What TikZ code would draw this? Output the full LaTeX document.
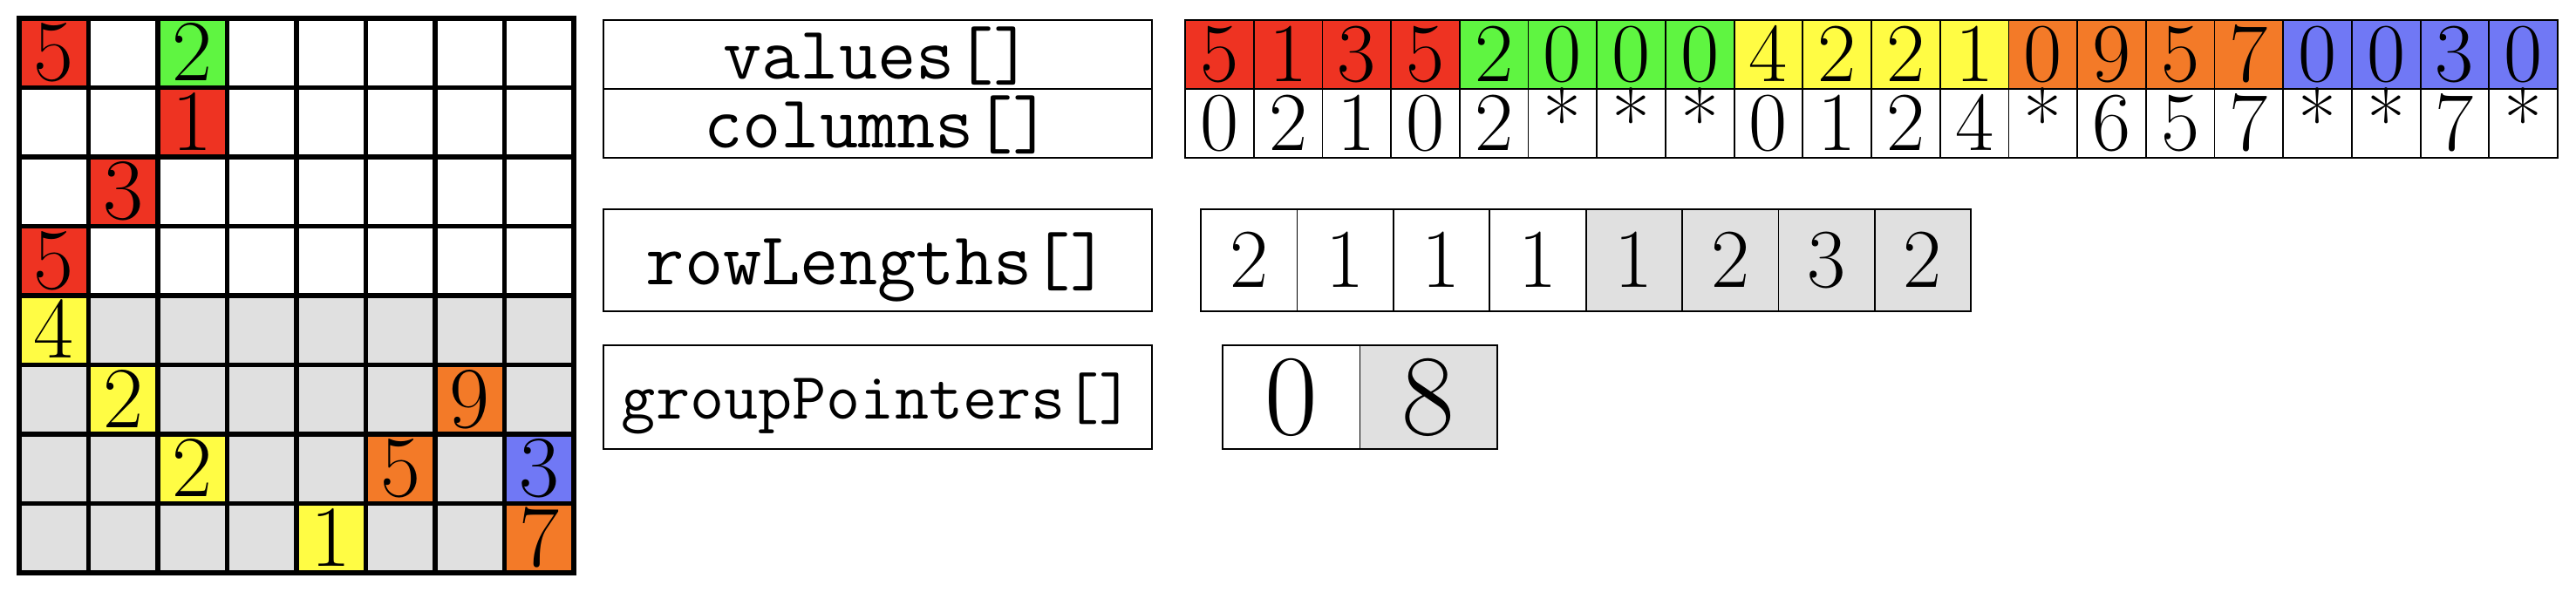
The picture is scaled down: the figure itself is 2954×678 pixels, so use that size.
\documentclass[tikz,border=0pt]{standalone}
\usepackage{fontspec}
\definecolor{cred}{RGB}{238,51,34}
\definecolor{cgreen}{RGB}{95,245,65}
\definecolor{cyellow}{RGB}{255,252,68}
\definecolor{corange}{RGB}{243,122,40}
\definecolor{cblue}{RGB}{112,120,245}
\definecolor{cgray}{RGB}{224,224,224}
\tikzset{
  gc/.style={minimum width=19.875pt, minimum height=19.875pt, inner sep=0pt,
    draw=black!35, line width=0.3pt, text height=16.1pt, text depth=0pt,
    font=\fontsize{25}{25}\selectfont},
  gridline/.style={line width=1.3pt, line cap=round},
  vc/.style={minimum width=19.675pt, minimum height=19.75pt, inner sep=0pt,
    draw=black, line width=0.45pt, text height=15.5pt, text depth=0pt,
    font=\fontsize{24}{24}\selectfont},
  rc/.style={minimum width=27.6pt, minimum height=29.25pt, inner sep=0pt,
    draw=black, line width=0.45pt, text height=15.5pt, text depth=0pt,
    font=\fontsize{24}{24}\selectfont},
  pc/.style={minimum width=39.375pt, minimum height=29.75pt, inner sep=0pt,
    draw=black, line width=0.45pt, text height=21.3pt, text depth=0pt,
    font=\fontsize{33}{33}\selectfont},
  lab/.style={minimum width=157.25pt, inner sep=0pt, draw=black,
    line width=0.55pt, text height=16pt, text depth=1.8pt,
    font=\ttfamily\fontsize{21.5}{21.5}\selectfont},
}
\begin{document}
\begin{tikzpicture}[x=0.25pt,y=-0.25pt]
\useasboundingbox (0,0) rectangle (2954,678);
% ---------- matrix grid ----------
\foreach \r in {0,...,7}{
  \foreach \c in {0,...,7}{
    \ifnum\r<4 \def\bg{white}\else\def\bg{cgray}\fi
    \node[gc, fill=\bg] (g-\r-\c) at ({22+79.5*(\c+0.5)},{21+79.5*(\r+0.5)}) {};
  }
}
\foreach \r/\c/\col/\v in {0/0/cred/5, 0/2/cgreen/2, 1/2/cred/1, 2/1/cred/3,
  3/0/cred/5, 4/0/cyellow/4, 5/1/cyellow/2, 5/6/corange/9, 6/2/cyellow/2,
  6/5/corange/5, 6/7/cblue/3, 7/4/cyellow/1, 7/7/corange/7}{
  \node[gc, fill=\col] (h-\r-\c) at ({22+79.5*(\c+0.5)},{21+79.5*(\r+0.5)}) {\v};
}
\foreach \i in {1,...,7}{
  \draw[gridline] ({22+79.5*\i},21) -- ({22+79.5*\i},657);
  \draw[gridline] (22,{21+79.5*\i}) -- (658,{21+79.5*\i});
}
\draw[gridline, line width=1.45pt] (22,21) rectangle (658,657);
% ---------- labels ----------
\node[lab, minimum height=19.75pt] (lv) at (1006.5,62.5) {values[]};
\node[lab, minimum height=19.75pt] (lc) at (1006.5,141.5) {columns[]};
\node[lab, minimum height=29.25pt] (lr) at (1006.5,298.5) {rowLengths[]};
\node[lab, minimum height=29.75pt, text height=14.2pt, text depth=1.6pt,
  font=\ttfamily\fontsize{19}{19}\selectfont] (lg) at (1006.5,455.5) {groupPointers[]};
% ---------- values / columns ----------
\foreach \v/\col [count=\i from 0] in {5/cred,1/cred,3/cred,5/cred,
  2/cgreen,0/cgreen,0/cgreen,0/cgreen,4/cyellow,2/cyellow,2/cyellow,1/cyellow,
  0/corange,9/corange,5/corange,7/corange,0/cblue,0/cblue,3/cblue,0/cblue}{
  \node[vc, fill=\col] (v\i) at ({1359+78.7*(\i+0.5)},62.5) {\v};
}
\foreach \v [count=\i from 0] in {0,2,1,0,2,*,*,*,0,1,2,4,*,6,5,7,*,*,7,*}{
  \node[vc, fill=white] (c\i) at ({1359+78.7*(\i+0.5)},141.5) {\v};
}
% ---------- rowLengths ----------
\foreach \v/\col [count=\i from 0] in {2/white,1/white,1/white,1/white,
  1/cgray,2/cgray,3/cgray,2/cgray}{
  \node[rc, fill=\col] (r\i) at ({1377+110.4*(\i+0.5)},298.5) {\v};
}
% ---------- groupPointers ----------
\node[pc, fill=white] (p0) at ({1402+157.5*0.5},455.5) {0};
\node[pc, fill=cgray] (p1) at ({1402+157.5*1.5},455.5) {8};
\end{tikzpicture}
\end{document}
